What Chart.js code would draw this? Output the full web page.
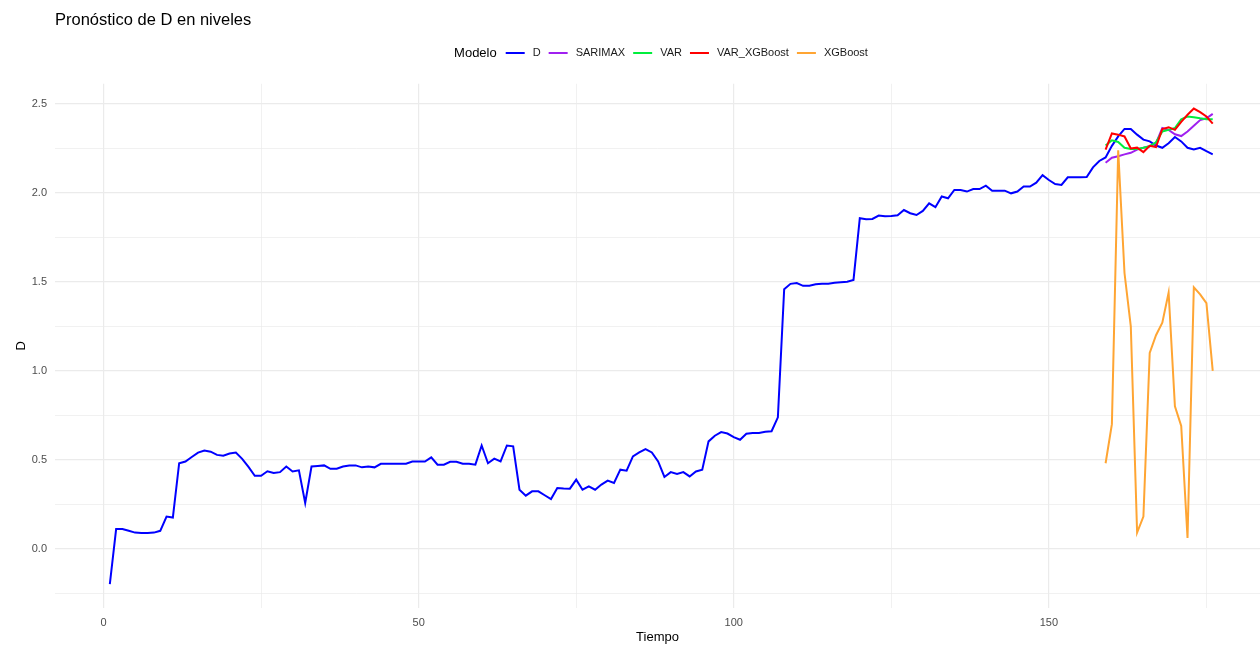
<!DOCTYPE html>
<html lang="es">
<head>
  <meta charset="UTF-8">
  <title>Pronóstico de D en niveles</title>
  <script src="https://cdn.jsdelivr.net/npm/chart.js"></script>
  <style>
    body {
      margin: 0;
      background: #ffffff;
    }
    #forecastChart {
      display: block;
    }
  </style>
</head>
<body>
  <canvas id="forecastChart" width="1260" height="646"></canvas>

  <script>
    // Observed D series, t = 1 .. 176
    const dValues = [
      -0.20, 0.11, 0.11, 0.10, 0.09, 0.088, 0.088, 0.09, 0.10, 0.18,
      0.175, 0.48, 0.49, 0.515, 0.54, 0.552, 0.545, 0.527, 0.522, 0.535,
      0.54, 0.505, 0.46, 0.41, 0.41, 0.435, 0.425, 0.43, 0.462, 0.434,
      0.44, 0.257, 0.462, 0.465, 0.468, 0.449, 0.449, 0.462, 0.468, 0.468,
      0.457, 0.462, 0.457, 0.477, 0.477, 0.477, 0.477, 0.477, 0.49, 0.49,
      0.49, 0.513, 0.472, 0.472, 0.488, 0.488, 0.477, 0.477, 0.472, 0.58,
      0.48, 0.506, 0.49, 0.58, 0.575, 0.331, 0.298, 0.322, 0.322, 0.30,
      0.279, 0.341, 0.338, 0.337, 0.388, 0.331, 0.35, 0.331, 0.36, 0.382,
      0.369, 0.444, 0.438, 0.519, 0.541, 0.56, 0.541, 0.49, 0.403, 0.43,
      0.42, 0.43, 0.406, 0.434, 0.444, 0.603, 0.635, 0.655, 0.647, 0.627,
      0.612, 0.646, 0.65, 0.65, 0.657, 0.66, 0.738, 1.459, 1.489, 1.493,
      1.478, 1.478, 1.487, 1.489, 1.49, 1.495, 1.498, 1.501, 1.511, 1.858,
      1.852, 1.854, 1.873, 1.869, 1.87, 1.875, 1.904, 1.886, 1.876, 1.899,
      1.942, 1.92, 1.98, 1.97, 2.017, 2.017, 2.008, 2.022, 2.022, 2.041,
      2.013, 2.013, 2.013, 1.998, 2.008, 2.036, 2.036, 2.058, 2.10, 2.073,
      2.05, 2.045, 2.088, 2.088, 2.088, 2.09, 2.144, 2.18, 2.20, 2.265,
      2.318, 2.36, 2.36, 2.328, 2.30, 2.29, 2.267, 2.254, 2.28, 2.315,
      2.29, 2.254, 2.245, 2.254, 2.235, 2.217
    ];

    // Forecasts cover t = 159 .. 176
    const forecastStart = 159;
    const sarimaxValues = [2.17, 2.198, 2.207, 2.217, 2.226, 2.244, 2.254, 2.263, 2.28, 2.365, 2.355, 2.33, 2.32, 2.346, 2.378, 2.41, 2.42, 2.445];
    const varValues = [2.267, 2.296, 2.287, 2.254, 2.248, 2.248, 2.254, 2.263, 2.285, 2.346, 2.355, 2.365, 2.415, 2.43, 2.426, 2.42, 2.415, 2.415];
    const varXgbValues = [2.244, 2.335, 2.328, 2.318, 2.25, 2.255, 2.23, 2.265, 2.258, 2.36, 2.37, 2.355, 2.40, 2.44, 2.475, 2.455, 2.43, 2.39];
    const xgbValues = [0.48, 0.70, 2.24, 1.55, 1.25, 0.09, 0.18, 1.10, 1.20, 1.27, 1.44, 0.80, 0.69, 0.06, 1.47, 1.43, 1.38, 1.00];

    const modelNames = ['D', 'SARIMAX', 'VAR', 'VAR_XGBoost', 'XGBoost'];
    const modelColors = ['#0000ff', '#a020f0', '#00ee3c', '#ff0000', '#ffa533'];

    const xTickLabels = [0, 50, 100, 150];
    const yTickLabels = [0.0, 0.5, 1.0, 1.5, 2.0, 2.5];

    function toPoints(values, start) {
      return values.map((v, i) => ({ x: start + i, y: v }));
    }

    const seriesValues = [dValues, sarimaxValues, varValues, varXgbValues, xgbValues];
    const seriesStart = [1, forecastStart, forecastStart, forecastStart, forecastStart];

    const datasets = modelNames.map((name, i) => ({
      label: name,
      data: toPoints(seriesValues[i], seriesStart[i]),
      borderColor: modelColors[i],
      backgroundColor: modelColors[i],
      borderWidth: 2,
      pointRadius: 0,
      tension: 0,
      // ggplot draws groups in order, last one on top
      order: modelNames.length - 1 - i
    }));

    // legend drawn on one row with the "Modelo" title inline, ggplot style
    const inlineLegend = {
      id: 'inlineLegend',
      afterDraw(chart) {
        const ctx = chart.ctx;
        const y = 53;
        const swatch = 19;
        ctx.save();
        ctx.textBaseline = 'middle';
        ctx.font = '13px "Liberation Sans", Arial, sans-serif';
        const titleW = ctx.measureText('Modelo').width;
        ctx.font = '11px "Liberation Sans", Arial, sans-serif';
        const items = chart.data.datasets.map(ds => ({
          label: ds.label,
          color: ds.borderColor,
          w: ctx.measureText(ds.label).width
        }));
        let total = titleW + 9;
        items.forEach((it, i) => {
          total += swatch + 8 + it.w + (i < items.length - 1 ? 8 : 0);
        });
        let x = 661 - total / 2;

        ctx.fillStyle = '#000000';
        ctx.textAlign = 'left';
        ctx.font = '13px "Liberation Sans", Arial, sans-serif';
        ctx.fillText('Modelo', x, y);
        x += titleW + 9;

        ctx.font = '11px "Liberation Sans", Arial, sans-serif';
        items.forEach(it => {
          ctx.strokeStyle = it.color;
          ctx.lineWidth = 2;
          ctx.beginPath();
          ctx.moveTo(x, y);
          ctx.lineTo(x + swatch, y);
          ctx.stroke();
          x += swatch + 8;
          ctx.fillStyle = '#1a1a1a';
          ctx.fillText(it.label, x, y);
          x += it.w + 8;
        });
        ctx.restore();
      }
    };

    const gridColor = '#ebebeb';
    const tickFont = { family: '"Liberation Sans", Arial, sans-serif', size: 11 };

    new Chart(document.getElementById('forecastChart'), {
      type: 'line',
      data: { datasets },
      options: {
        responsive: false,
        animation: false,
        devicePixelRatio: 1,
        layout: { padding: 0 },
        plugins: {
          legend: { display: false },
          tooltip: { enabled: false },
          title: {
            display: true,
            text: 'Pronóstico de D en niveles',
            align: 'start',
            fullSize: false,
            color: '#000000',
            font: { family: '"Liberation Sans", Arial, sans-serif', size: 16.5, weight: 'normal' },
            padding: { top: 11, bottom: 53 }
          }
        },
        scales: {
          x: {
            type: 'linear',
            min: -7.7,
            max: 183.5,
            border: { display: false },
            grid: {
              drawTicks: false,
              color: gridColor,
              lineWidth: ctx => (xTickLabels.includes(ctx.tick.value) ? 1.2 : 0.7)
            },
            ticks: {
              stepSize: 25,
              includeBounds: false,
              padding: 8,
              color: '#4d4d4d',
              font: tickFont,
              maxRotation: 0,
              autoSkip: false,
              callback: v => (xTickLabels.includes(v) ? String(v) : '')
            },
            title: {
              display: true,
              text: 'Tiempo',
              color: '#000000',
              font: { family: '"Liberation Sans", Arial, sans-serif', size: 13 },
              padding: { top: 0, bottom: 1 }
            },
            afterFit: scale => { scale.height = 38; }
          },
          y: {
            type: 'linear',
            min: -0.334,
            max: 2.614,
            border: { display: false },
            grid: {
              drawTicks: false,
              color: gridColor,
              lineWidth: ctx => (yTickLabels.some(t => Math.abs(t - ctx.tick.value) < 1e-9) ? 1.2 : 0.7)
            },
            ticks: {
              stepSize: 0.25,
              includeBounds: false,
              padding: 8,
              color: '#4d4d4d',
              font: tickFont,
              autoSkip: false,
              callback: v => (yTickLabels.some(t => Math.abs(t - v) < 1e-9) ? v.toFixed(1) : '')
            },
            title: {
              display: true,
              text: 'D',
              color: '#000000',
              font: { family: '"Liberation Sans", Arial, sans-serif', size: 13 },
              padding: { top: 14, bottom: 0 }
            },
            afterFit: scale => { scale.width = 55; }
          }
        }
      },
      plugins: [inlineLegend]
    });
  </script>
</body>
</html>
